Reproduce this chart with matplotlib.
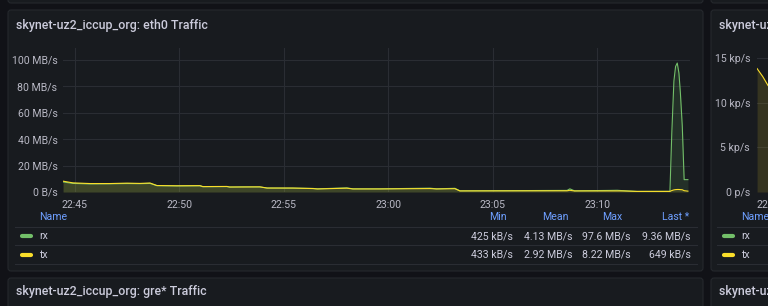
import matplotlib
matplotlib.use("Agg")
import matplotlib.pyplot as plt
from matplotlib.patches import FancyBboxPatch
from matplotlib.lines import Line2D
from matplotlib.transforms import IdentityTransform

plt.rcParams['font.family'] = ['Roboto', 'DejaVu Sans']

W, H = 768, 306

# eth0 traffic, minutes after 22:45, MB/s
t = [-0.57, -0.10, 0.72, 1.67, 2.49, 3.11, 3.59, 3.92, 4.88, 5.98, 6.12, 7.27, 7.40,
     8.04, 8.85, 9.19, 10.43, 11.39, 11.60, 13.01, 13.30, 14.59, 16.99, 17.30, 18.18,
     18.42, 23.55, 23.68, 23.90, 25.60, 25.95, 26.22, 26.89, 28.47, 28.56, 28.66,
     28.74, 28.82, 28.90, 28.97, 29.06, 29.15, 29.33]
rx = [7.6, 6.5, 6.1, 6.2, 6.4, 6.3, 6.5, 4.8, 4.6, 4.7, 4.0, 4.1, 3.7, 3.9, 3.8, 3.0,
      2.9, 2.7, 2.4, 3.1, 2.4, 2.4, 2.9, 2.4, 2.8, 0.9, 1.2, 2.4, 0.9, 1.2, 1.3, 1.0,
      0.43, 0.5, 45, 84, 95, 97.6, 90, 75, 50, 9.36, 9.36]
tx = [8.2, 6.9, 6.4, 6.4, 6.7, 6.5, 6.8, 4.9, 4.7, 4.8, 4.1, 4.2, 3.8, 3.8, 3.9, 3.0,
      3.0, 2.6, 2.3, 2.9, 2.3, 2.3, 2.6, 2.3, 2.5, 0.8, 0.9, 1.3, 0.8, 0.8, 0.8, 0.8,
      0.45, 0.45, 1.1, 1.6, 1.8, 1.9, 1.9, 1.8, 1.7, 1.0, 0.65]

# neighbour panel (packets), only its left edge is visible
t2 = [-0.57, -0.30, -0.05, 0.20, 0.50]
tx2 = [13.8, 12.9, 11.9, 11.2, 10.6]

xticks = [0, 5, 10, 15, 20, 25]
xlabels = ['22:45', '22:50', '22:55', '23:00', '23:05', '23:10']
yticks = [0, 20, 40, 60, 80, 100]
ylabels = ['0 B/s', '20 MB/s', '40 MB/s', '60 MB/s', '80 MB/s', '100 MB/s']
yticks2 = [0, 5, 10, 15]
ylabels2 = ['0 p/s', '5 kp/s', '10 kp/s', '15 kp/s']

legend_cols = ['Min', 'Mean', 'Max', 'Last *']
rx_stats = ['425 kB/s', '4.13 MB/s', '97.6 MB/s', '9.36 MB/s']
tx_stats = ['433 kB/s', '2.92 MB/s', '8.22 MB/s', '649 kB/s']

BG = '#111217'
PANEL = '#181b1f'
BORDER = '#25282d'
GRID = '#2a2d33'
TXT = '#ccccdc'
TICK = '#b8b8c4'
BLUE = '#6e9fff'
GREEN = '#73bf69'
YELLOW = '#fade2a'
FS = 7.6
FT = 8.9

fig = plt.figure(figsize=(W / 100, H / 100), dpi=100, facecolor=BG)
px = IdentityTransform()


def panel(x0, y0, x1, y1):
    p = FancyBboxPatch((x0, H - y1), x1 - x0, y1 - y0,
                       boxstyle='round,pad=0,rounding_size=3',
                       transform=px, facecolor=PANEL, edgecolor=BORDER, lw=0.8,
                       zorder=-10)
    fig.add_artist(p)


def text(x, y, s, **kw):
    fig.text(x, H - y, s, transform=px, va='center', **kw)


def hline(x0, x1, y, color=GRID, lw=0.8):
    fig.add_artist(Line2D([x0, x1], [H - y, H - y], transform=px, color=color, lw=lw))


panel(8, -20, 703, 3)
panel(711, -20, 800, 3)
panel(8, 10, 703, 271)
panel(711, 10, 800, 271)
panel(8, 278, 703, 330)
panel(711, 278, 800, 330)

text(16, 25, 'skynet-uz2_iccup_org: eth0 Traffic', color=TXT, fontsize=FT, fontweight='medium')
text(719, 25, 'skynet-uz2_iccup_org: eth0 Packets', color=TXT, fontsize=FT, fontweight='medium')
text(16, 292, 'skynet-uz2_iccup_org: gre* Traffic', color=TXT, fontsize=FT, fontweight='medium')
text(719, 292, 'skynet-uz2_iccup_org: gre* Packets', color=TXT, fontsize=FT, fontweight='medium')


def style_axes(ax):
    ax.set_facecolor('none')
    for s in ax.spines.values():
        s.set_visible(False)
    ax.grid(True, color=GRID, lw=0.8)
    ax.set_axisbelow(True)
    ax.tick_params(length=0, colors=TICK, labelsize=FS)
    ax.tick_params(axis='x', pad=6)
    ax.tick_params(axis='y', pad=4)


ax = fig.add_axes([63 / W, 1 - 192 / H, (690 - 63) / W, (192 - 48) / H])
style_axes(ax)
ax.fill_between(t, rx, color=GREEN, alpha=0.13, lw=0)
ax.fill_between(t, tx, color=YELLOW, alpha=0.13, lw=0)
ax.plot(t, rx, color=GREEN, lw=0.8)
ax.plot(t, tx, color=YELLOW, lw=0.8)
ax.set_xlim(-0.574, 29.43)
ax.set_ylim(0, 109)
ax.set_xticks(xticks, xlabels)
ax.set_yticks(yticks, ylabels)

ax2 = fig.add_axes([757 / W, 1 - 192 / H, 633 / W, (192 - 48) / H])
style_axes(ax2)
ax2.fill_between(t2, tx2, color=YELLOW, alpha=0.13, lw=0)
ax2.plot(t2, tx2, color=YELLOW, lw=0.8)
ax2.set_xlim(-0.574, 29.43)
ax2.set_ylim(0, 16.1)
ax2.set_xticks(xticks, xlabels)
ax2.set_yticks(yticks2, ylabels2)
ax2.tick_params(axis='y', pad=5)

# legend table, main panel
text(39, 217, 'Name', color=BLUE, fontsize=FS)
head_right = [507, 569, 622, 689]
val_right = [513, 572, 631, 691]
for c, xr in zip(legend_cols, head_right):
    text(xr, 217, c, color=BLUE, fontsize=FS, ha='right')
for yy in (226.5, 245, 264):
    hline(15, 697, yy)
    hline(717, 800, yy)
for name, col, yy, stats in (('rx', GREEN, 236, rx_stats), ('tx', YELLOW, 255, tx_stats)):
    fig.add_artist(Line2D([22, 31], [H - yy, H - yy], transform=px, color=col,
                          lw=3, solid_capstyle='round'))
    text(39, yy, name, color=TXT, fontsize=FS)
    for s, xr in zip(stats, val_right):
        text(xr, yy, s, color=TXT, fontsize=FS, ha='right')
    fig.add_artist(Line2D([724, 733], [H - yy, H - yy], transform=px, color=col,
                          lw=3, solid_capstyle='round'))
    text(741, yy, name, color=TXT, fontsize=FS)
text(741, 217, 'Name', color=BLUE, fontsize=FS)

fig.savefig('out.png', dpi=100, facecolor=BG)
